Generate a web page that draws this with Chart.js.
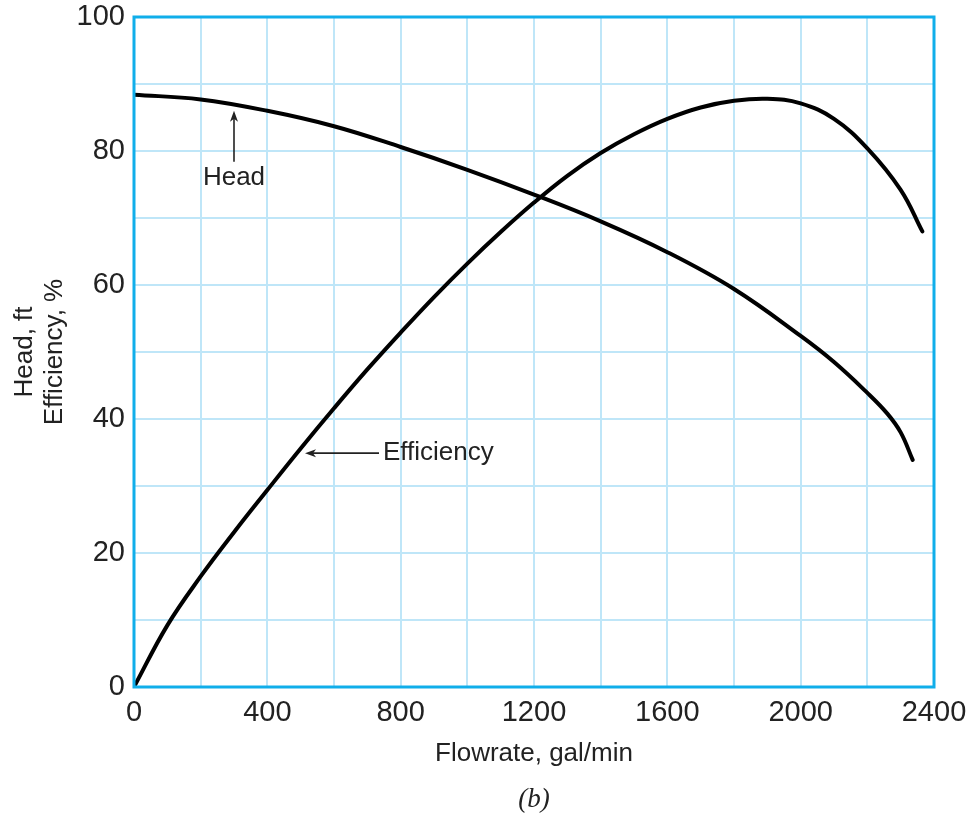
<!DOCTYPE html>
<html lang="en">
<head>
    <meta charset="UTF-8">
    <title>Pump curve</title>
    <script src="https://cdn.jsdelivr.net/npm/chart.js"></script>
    <style>
        html, body { margin: 0; padding: 0; background: #fff; }
        #wrap { width: 968px; height: 816px; }
    </style>
</head>
<body>
    <div id="wrap">
        <canvas id="myChart" width="968" height="816"></canvas>
    </div>

    <script>
        // Head curve
        const headFlow = [0, 200, 400, 600, 800, 1000, 1200, 1400, 1600, 1800, 2000, 2100, 2200, 2260, 2300, 2336];
        const headFt   = [88.4, 87.7, 86.0, 83.7, 80.6, 77.2, 73.5, 69.5, 64.9, 59.4, 52.4, 48.5, 43.9, 40.8, 38.0, 33.9];

        // Efficiency curve
        const effFlow = [0, 100, 200, 300, 400, 500, 600, 700, 800, 900, 1000, 1100, 1200, 1300, 1400, 1500, 1600, 1700, 1800, 1900, 2000, 2100, 2200, 2300, 2365];
        const effPct  = [0, 9.2, 16.5, 23.1, 29.4, 35.6, 41.6, 47.4, 52.9, 58.2, 63.2, 67.9, 72.3, 76.3, 79.7, 82.5, 84.8, 86.5, 87.5, 87.8, 87.1, 84.8, 80.4, 74.2, 68];

        // axis ticks (labels shown only on every other grid line)
        const xTickLabels = [0, 400, 800, 1200, 1600, 2000, 2400];
        const yTickLabels = [0, 20, 40, 60, 80, 100];

        // callout labels in data units
        const headArrow = { x: 300, yTip: 86.0, yTail: 78.4, label: 'Head', labelY: 76.0 };
        const effArrow  = { xTip: 513, xTail: 735, y: 34.9, label: 'Efficiency' };

        const ink = '#222';
        const gridBlue = '#bfe6f8';
        const frameBlue = '#10aeea';
        const family = "'Liberation Sans', Arial, sans-serif";

        const toPoints = (xs, ys) => xs.map((x, i) => ({ x: x, y: ys[i] }));

        // frame around the plot + callouts + (b) caption
        const decorations = {
            id: 'decorations',
            afterDatasetsDraw(chart) {
                const { ctx, chartArea: a, scales: { x, y } } = chart;
                ctx.save();

                // light blue frame
                ctx.strokeStyle = frameBlue;
                ctx.lineWidth = 3;
                ctx.strokeRect(a.left, a.top, a.right - a.left, a.bottom - a.top);

                ctx.strokeStyle = ink;
                ctx.fillStyle = ink;
                ctx.lineWidth = 1.6;

                // Head arrow (pointing up)
                const hx = x.getPixelForValue(headArrow.x);
                const hTip = y.getPixelForValue(headArrow.yTip);
                const hTail = y.getPixelForValue(headArrow.yTail);
                ctx.beginPath();
                ctx.moveTo(hx, hTail);
                ctx.lineTo(hx, hTip + 6);
                ctx.stroke();
                ctx.beginPath();
                ctx.moveTo(hx, hTip);
                ctx.lineTo(hx - 4, hTip + 11);
                ctx.lineTo(hx, hTip + 8);
                ctx.lineTo(hx + 4, hTip + 11);
                ctx.closePath();
                ctx.fill();

                ctx.font = '26px ' + family;
                ctx.textAlign = 'center';
                ctx.textBaseline = 'middle';
                ctx.fillText(headArrow.label, hx, y.getPixelForValue(headArrow.labelY));

                // Efficiency arrow (pointing left)
                const ey = y.getPixelForValue(effArrow.y);
                const eTip = x.getPixelForValue(effArrow.xTip);
                const eTail = x.getPixelForValue(effArrow.xTail);
                ctx.beginPath();
                ctx.moveTo(eTail, ey);
                ctx.lineTo(eTip + 6, ey);
                ctx.stroke();
                ctx.beginPath();
                ctx.moveTo(eTip, ey);
                ctx.lineTo(eTip + 11, ey - 4);
                ctx.lineTo(eTip + 8, ey);
                ctx.lineTo(eTip + 11, ey + 4);
                ctx.closePath();
                ctx.fill();

                ctx.textAlign = 'left';
                ctx.fillText(effArrow.label, eTail + 4, ey);

                // caption
                ctx.font = "italic 27px 'Liberation Serif', serif";
                ctx.textAlign = 'center';
                ctx.fillText('(b)', (a.left + a.right) / 2, 800);

                ctx.restore();
            }
        };

        const lineStyle = {
            borderColor: '#000',
            borderWidth: 4,
            pointRadius: 0,
            tension: 0.4,
            borderCapStyle: 'round',
            fill: false
        };

        const config = {
            type: 'line',
            data: {
                datasets: [
                    Object.assign({ label: 'Head', data: toPoints(headFlow, headFt) }, lineStyle),
                    Object.assign({ label: 'Efficiency', data: toPoints(effFlow, effPct) }, lineStyle)
                ]
            },
            options: {
                responsive: false,
                animation: false,
                layout: {
                    padding: { left: 0, right: 34, top: 17, bottom: 47 }
                },
                plugins: {
                    legend: { display: false },
                    tooltip: { enabled: false }
                },
                scales: {
                    x: {
                        type: 'linear',
                        min: 0,
                        max: 2400,
                        border: { display: false },
                        grid: { color: gridBlue, lineWidth: 2, drawTicks: false },
                        ticks: {
                            stepSize: 200,
                            padding: 9,
                            color: ink,
                            font: { family: family, size: 29 },
                            maxRotation: 0,
                            autoSkip: false,
                            callback: v => xTickLabels.includes(v) ? String(v) : ''
                        },
                        title: {
                            display: true,
                            text: 'Flowrate, gal/min',
                            color: ink,
                            font: { family: family, size: 26, lineHeight: 1.2 },
                            padding: { top: 0, bottom: 0 }
                        },
                        afterFit: scale => {
                            scale.height = 82;
                            scale.paddingLeft = 0;
                            scale.paddingRight = 0;
                        }
                    },
                    y: {
                        type: 'linear',
                        min: 0,
                        max: 100,
                        border: { display: false },
                        grid: { color: gridBlue, lineWidth: 2, drawTicks: false },
                        ticks: {
                            stepSize: 10,
                            padding: 9,
                            color: ink,
                            font: { family: family, size: 29 },
                            autoSkip: false,
                            callback: v => yTickLabels.includes(v) ? String(v) : ''
                        },
                        title: {
                            display: true,
                            text: ['Head, ft', 'Efficiency, %'],
                            color: ink,
                            font: { family: family, size: 26, lineHeight: 1.15 },
                            padding: { top: 10, bottom: 0 }
                        },
                        afterFit: scale => {
                            scale.width = 134;
                            scale.paddingTop = 0;
                            scale.paddingBottom = 0;
                        }
                    }
                }
            },
            plugins: [decorations]
        };

        const ctx = document.getElementById('myChart').getContext('2d');
        new Chart(ctx, config);
    </script>
</body>
</html>
